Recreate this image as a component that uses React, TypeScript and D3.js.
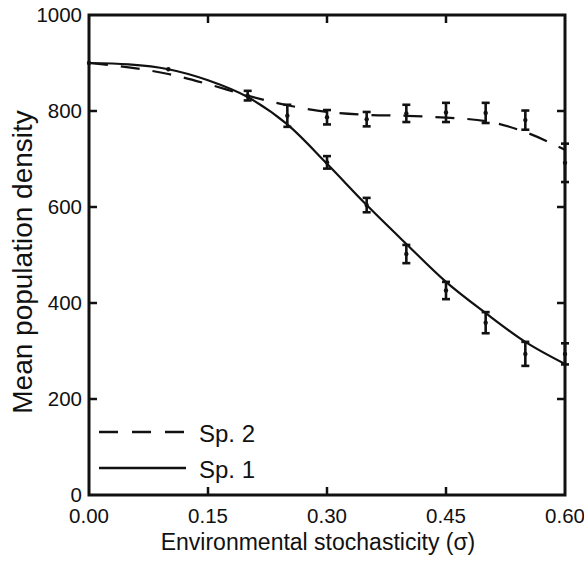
import React, { useEffect, useRef } from 'react'
import * as d3 from 'd3'

// fitted curves
const curveX = [0, 0.05, 0.1, 0.15, 0.2, 0.25, 0.3, 0.35, 0.4, 0.45, 0.5, 0.55, 0.6]
const sp1Curve = [900, 897, 887, 864, 829, 772, 690, 604, 523, 444, 379, 319, 273]
const sp2Curve = [900, 891, 877, 856, 832, 812, 798, 792, 790, 786, 779, 756, 719]

// simulated means with error bars
const sp1X = [0, 0.1, 0.3, 0.35, 0.4, 0.45, 0.5, 0.55, 0.6]
const sp1Mean = [900, 887, 693, 604, 502, 426, 359, 294, 294]
const sp1Err = [0, 0, 13, 15, 19, 18, 22, 25, 22]

const sp2X = [0.2, 0.25, 0.3, 0.35, 0.4, 0.45, 0.5, 0.55, 0.6]
const sp2Mean = [832, 790, 787, 783, 795, 797, 796, 781, 692]
const sp2Err = [10, 23, 15, 15, 18, 20, 21, 20, 40]

const xTicks = [0, 0.15, 0.3, 0.45, 0.6]
const yTicks = [0, 200, 400, 600, 800, 1000]

const App = () => {
  const ref = useRef(null)

  useEffect(() => {
    document.body.style.margin = '0'
    const svg = d3.select(ref.current)
    svg.selectAll('*').remove()

    const left = 89, right = 565, top = 15, bottom = 495
    const x = d3.scaleLinear().domain([0, 0.6]).range([left, right])
    const y = d3.scaleLinear().domain([0, 1000]).range([bottom, top])
    const font = 'Liberation Sans, Arial, sans-serif'

    // curves
    const line = d3.line<number>()
      .x((d, i) => x(curveX[i]))
      .y(d => y(d))
      .curve(d3.curveMonotoneX)

    svg.append('path').attr('d', line(sp2Curve))
      .attr('fill', 'none').attr('stroke', '#111').attr('stroke-width', 2.2)
      .attr('stroke-dasharray', '19,13')
    svg.append('path').attr('d', line(sp1Curve))
      .attr('fill', 'none').attr('stroke', '#111').attr('stroke-width', 2.2)

    // error bars
    const bars = (xs, ms, es) => {
      xs.forEach((xv, i) => {
        const cx = x(xv), e = es[i], m = ms[i]
        const g = svg.append('g').attr('stroke', '#111').attr('stroke-width', 2.6)
        if (e > 0) {
          g.append('line').attr('x1', cx).attr('x2', cx).attr('y1', y(m - e)).attr('y2', y(m + e))
          g.append('line').attr('x1', cx - 4).attr('x2', cx + 4).attr('y1', y(m - e)).attr('y2', y(m - e))
          g.append('line').attr('x1', cx - 4).attr('x2', cx + 4).attr('y1', y(m + e)).attr('y2', y(m + e))
        }
        svg.append('circle').attr('cx', cx).attr('cy', y(m)).attr('r', 2.2).attr('fill', '#111')
      })
    }
    bars(sp1X, sp1Mean, sp1Err)
    bars(sp2X, sp2Mean, sp2Err)

    // frame
    svg.append('rect').attr('x', left).attr('y', top)
      .attr('width', right - left).attr('height', bottom - top)
      .attr('fill', 'none').attr('stroke', '#111').attr('stroke-width', 3)

    const tk = svg.append('g').attr('stroke', '#111').attr('stroke-width', 2.5)
    xTicks.slice(1, -1).forEach(t => {
      tk.append('line').attr('x1', x(t)).attr('x2', x(t)).attr('y1', bottom).attr('y2', bottom - 8)
      tk.append('line').attr('x1', x(t)).attr('x2', x(t)).attr('y1', top).attr('y2', top + 8)
    })
    yTicks.slice(1, -1).forEach(t => {
      tk.append('line').attr('x1', left).attr('x2', left + 8).attr('y1', y(t)).attr('y2', y(t))
      tk.append('line').attr('x1', right).attr('x2', right - 8).attr('y1', y(t)).attr('y2', y(t))
    })

    // tick labels
    svg.append('g').selectAll('text').data(xTicks).enter().append('text')
      .attr('x', d => x(d)).attr('y', bottom + 28)
      .attr('text-anchor', 'middle').attr('font-family', font).attr('font-size', 20.5)
      .attr('fill', '#111').text(d => d3.format('.2f')(d))
    svg.append('g').selectAll('text').data(yTicks).enter().append('text')
      .attr('x', left - 7).attr('y', d => y(d) + 7)
      .attr('text-anchor', 'end').attr('font-family', font).attr('font-size', 20.5)
      .attr('fill', '#111').text(d => d)

    // axis titles
    svg.append('text').attr('x', 318).attr('y', 550)
      .attr('text-anchor', 'middle').attr('font-family', font).attr('font-size', 23)
      .attr('fill', '#111').text('Environmental stochasticity (σ)')
    svg.append('text').attr('transform', 'translate(32,262) rotate(-90)')
      .attr('text-anchor', 'middle').attr('font-family', font).attr('font-size', 28)
      .attr('fill', '#111').text('Mean population density')

    // legend
    const legend = [
      { label: 'Sp. 2', dash: '19,14', yy: 432 },
      { label: 'Sp. 1', dash: null, yy: 468 }
    ]
    legend.forEach(l => {
      svg.append('line').attr('x1', 99).attr('x2', 186).attr('y1', l.yy).attr('y2', l.yy)
        .attr('stroke', '#111').attr('stroke-width', 2.4)
        .attr('stroke-dasharray', l.dash)
      svg.append('text').attr('x', 199).attr('y', l.yy + 10)
        .attr('font-family', font).attr('font-size', 24).attr('fill', '#111').text(l.label)
    })
  }, [])

  return <svg ref={ref} width={584} height={568} style={{ display: 'block', background: '#fff' }}></svg>
}

export default App
